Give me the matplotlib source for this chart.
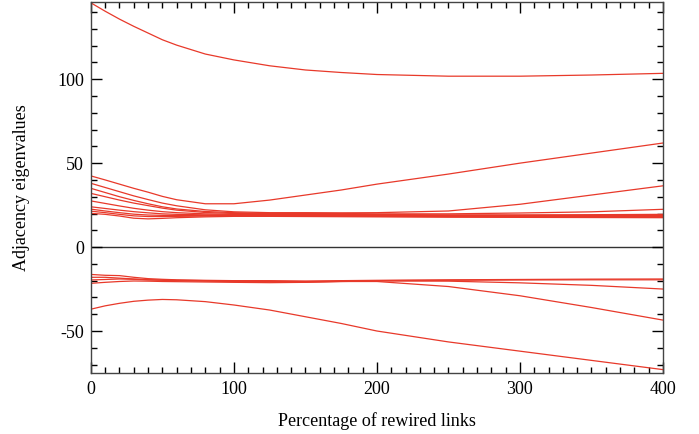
import numpy as np
import matplotlib
matplotlib.use('Agg')
import matplotlib.pyplot as plt
from matplotlib.ticker import MultipleLocator

# sample positions along the x axis (percentage of rewired links)
x = [0, 10, 20, 30, 40, 50, 60, 80, 100, 125, 150, 175, 200, 250, 300, 350, 400]

# largest eigenvalue
top = [145.5, 140.5, 135.8, 131.5, 127.5, 123.5, 120.3, 115, 111.5, 108, 105.5, 104, 102.8, 101.8, 101.8, 102.5, 103.5]

# positive bundle
posA = [42.4, 40, 37.5, 35, 32.7, 30.2, 28.2, 25.8, 25.8, 28, 31, 34, 37.5, 43.5, 50, 56, 62]
posB = [38, 35.5, 33, 30.5, 28.3, 26.2, 24.6, 22.2, 21, 20.5, 20.5, 20.4, 20.5, 21.5, 25.5, 31, 36.5]
posC = [35, 32.5, 30, 27.8, 25.8, 24, 22.7, 21.2, 20.5, 20, 20, 20, 19.8, 19.8, 20.3, 21, 22.5]
posD = [32, 30, 28, 26.2, 24.7, 23.2, 22, 20.6, 20, 19.8, 19.6, 19.5, 19.4, 19.2, 19.2, 19.3, 19.5]
posE = [27.5, 26, 24.5, 23.1, 22, 21.1, 20.5, 19.8, 19.5, 19.3, 19.4, 19.2, 19, 18.9, 18.8, 18.8, 18.8]
posF = [24, 23, 22, 21.1, 20.4, 19.8, 19.5, 19.2, 19.2, 19.4, 19, 18.9, 18.8, 18.6, 18.5, 18.3, 18.2]
posG = [22.6, 21.5, 20.5, 19.6, 19.1, 18.9, 18.8, 18.8, 18.9, 18.8, 18.7, 18.7, 18.6, 18.4, 18.3, 18.1, 18]
posH = [21.4, 20.5, 19.5, 18.6, 18.2, 18.2, 18.3, 18.5, 18.7, 18.6, 18.5, 18.4, 18.3, 18.1, 18, 17.9, 17.8]
posI = [20.1, 19.5, 18.5, 17.2, 16.8, 17.1, 17.5, 18, 18.3, 18.3, 18.2, 18.1, 18, 17.8, 17.7, 17.6, 17.5]

# negative bundle
negA = [-16.3, -16.8, -17, -18, -18.8, -19.2, -19.5, -19.8, -20, -20, -20.2, -20, -19.8, -19.5, -19.3, -19.1, -19]
negB = [-18, -18, -18.5, -19, -19.4, -19.6, -19.8, -20, -20.3, -20.5, -20.6, -20.4, -20, -19.8, -19.6, -19.5, -19.5]
negC = [-19.6, -19.3, -19, -19.2, -19.6, -19.8, -20, -20.3, -20.5, -20.6, -20.8, -20.5, -20.2, -20.3, -21.3, -22.8, -25]
negD = [-21.6, -21, -20.5, -20.2, -20.3, -20.5, -20.6, -20.8, -21, -21.2, -21, -20.5, -20.5, -23.5, -29, -36, -43.5]

# smallest eigenvalue
bottom = [-37, -35, -33.5, -32.3, -31.6, -31.2, -31.4, -32.5, -34.5, -37.5, -41.5, -45.5, -50, -56.5, -62, -67.5, -73]

series = [top, posA, posB, posC, posD, posE, posF, posG, posH, posI,
          negA, negB, negC, negD, bottom]

plt.rcParams['font.family'] = ['Liberation Serif', 'DejaVu Serif']
plt.rcParams['axes.unicode_minus'] = False

fig = plt.figure(figsize=(6.99, 4.34), dpi=100)
ax = fig.add_axes([0.130, 0.1406, 0.8185, 0.8548])

ax.axhline(0, color='#333333', lw=1.0, zorder=1)
for s in series:
    ax.plot(x, s, color='#e8392a', lw=0.9, zorder=2)

ax.set_xlim(0, 400)
ax.set_ylim(-75, 146)
ax.xaxis.set_major_locator(MultipleLocator(100))
ax.xaxis.set_minor_locator(MultipleLocator(10))
ax.yaxis.set_major_locator(MultipleLocator(50))
ax.yaxis.set_minor_locator(MultipleLocator(10))
ax.tick_params(which='both', direction='in', top=True, right=True,
               labelsize=13, colors='black', width=1.0)
ax.tick_params(which='major', length=8)
ax.tick_params(axis='x', which='major', pad=6)
ax.tick_params(axis='y', which='major', pad=5)
ax.tick_params(which='minor', length=4)
for sp in ax.spines.values():
    sp.set_color('#444444')
    sp.set_linewidth(1.0)

ax.set_xlabel('Percentage of rewired links', fontsize=13)
ax.set_ylabel('Adjacency eigenvalues', fontsize=13)
ax.xaxis.set_label_coords(0.5, -0.105)
ax.yaxis.set_label_coords(-0.106, 0.5)

fig.savefig('out.png', dpi=100)
